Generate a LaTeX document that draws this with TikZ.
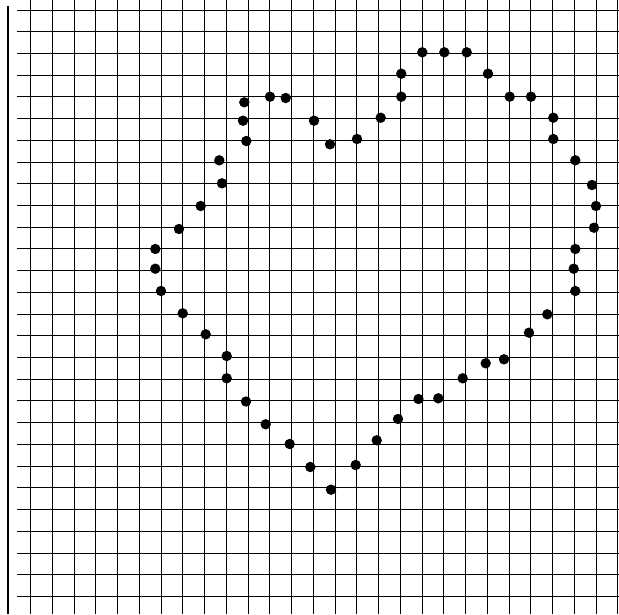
\documentclass[tikz,border=0pt]{standalone}
\usepackage{tikz}

\begin{document}
\begin{tikzpicture}[
    x=1pt, y=-1pt,
    gridline/.style={black, line width=1pt},
    axisline/.style={black, line width=1.4pt},
    dotmark/.style={circle, fill=black, inner sep=0pt, minimum size=10.4pt},
]

\def\cw{21.75}   % cell width
\def\ch{21.72}   % cell height
\def\gx{30.7}    % first vertical line
\def\gy{10}      % first horizontal line

\useasboundingbox (0,0) rectangle (619,614);

% ── Grid ────────────────────────────────────────────────────
\foreach \k in {0,...,27} {
    \draw[gridline] (17, {\gy + \k*\ch}) -- (619, {\gy + \k*\ch});
    \draw[gridline] ({\gx + \k*\cw}, 0) -- ({\gx + \k*\cw}, 614);
}

% ── Left axis ───────────────────────────────────────────────
\draw[axisline] (8, 6) -- (8, 614);

% ── Sample points (pixel positions) ─────────────────────────
\foreach \px/\py [count=\i] in {
    422.3/52.3, 444.3/52.3, 466.7/52.3, 401.3/73.7, 488/73.7,
    401.3/96.7, 509.7/96.7, 531/96.7, 244.3/102.3, 270/96.7,
    285.7/98, 243/120.7, 314/120.7, 380.7/117.7, 553.3/117.7,
    246.3/141, 330/144.3, 357/139, 553.3/139, 219.3/160.3,
    575.3/160.3, 222/183.3, 592/185, 200.7/206, 596/206,
    179/229, 594/227.7, 155.3/249, 575.3/249, 155.3/268.7,
    573.7/268.7, 161/291, 575.3/291, 182.7/313.3, 547.3/314.3,
    205.7/334.3, 529/332.7, 226.7/356, 504/359.3, 485.7/363.3,
    226.7/378.3, 462.7/378.3, 246/401.5, 438.3/398.3, 418.5/399,
    398/419, 265.7/424.3, 376.7/440.3, 289.7/444, 355.7/465,
    310.3/467, 331/489.7} {
    \node[dotmark] (p\i) at (\px, \py) {};
}

\end{tikzpicture}
\end{document}
